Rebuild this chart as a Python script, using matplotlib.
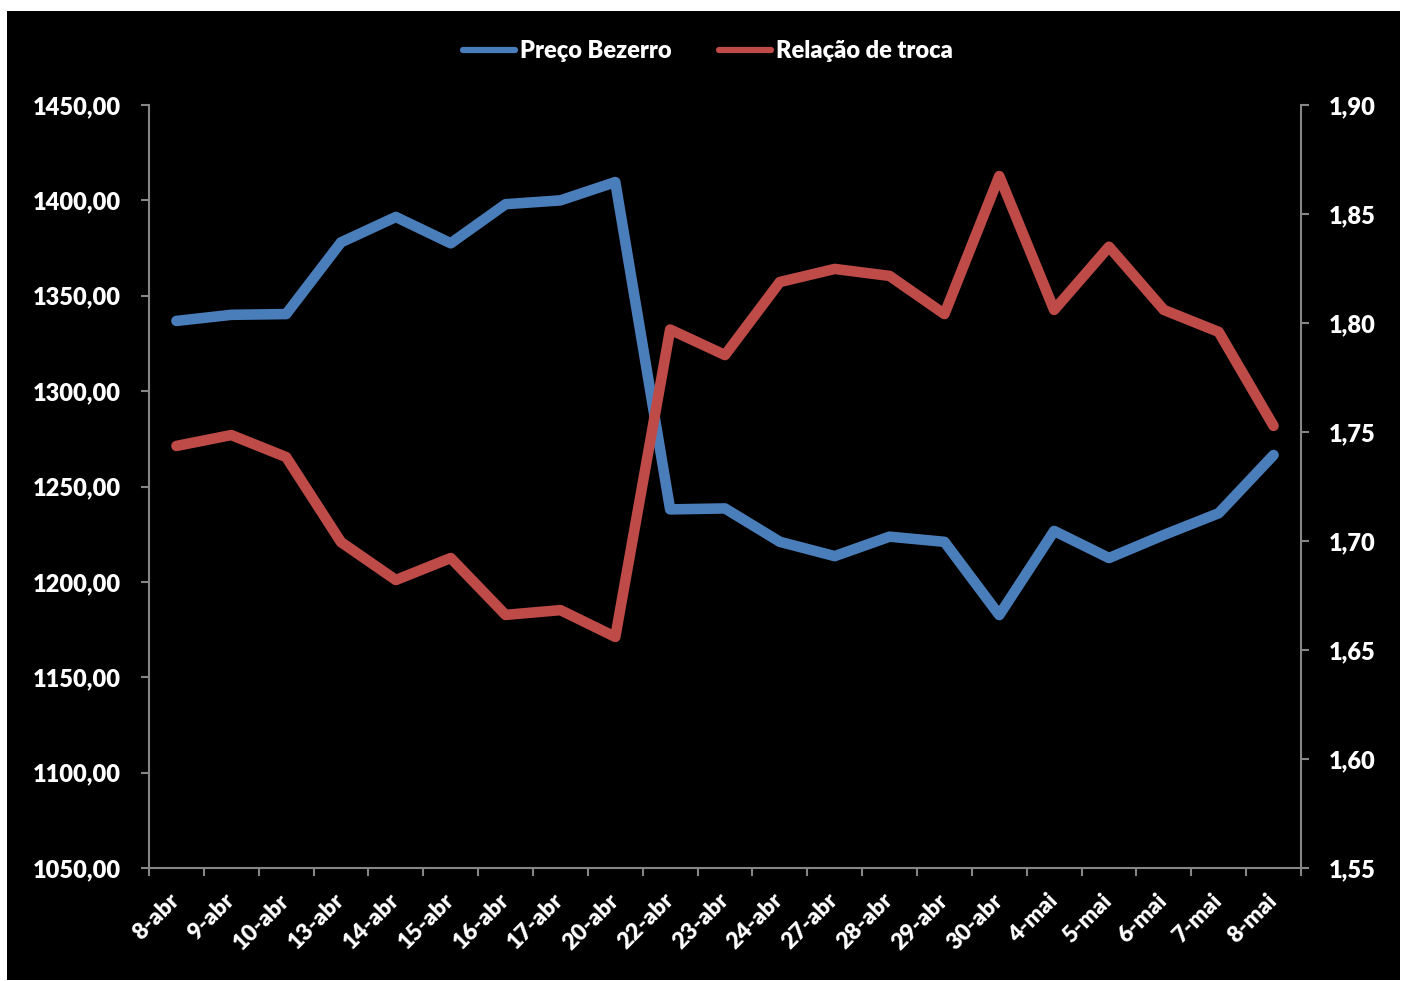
import matplotlib
matplotlib.use("Agg")
import matplotlib.pyplot as plt
from matplotlib.patches import Rectangle
from matplotlib.ticker import FuncFormatter, MultipleLocator

# Datas de referência
datas = ["8-abr", "9-abr", "10-abr", "13-abr", "14-abr", "15-abr", "16-abr",
         "17-abr", "20-abr", "22-abr", "23-abr", "24-abr", "27-abr", "28-abr",
         "29-abr", "30-abr", "4-mai", "5-mai", "6-mai", "7-mai", "8-mai"]

# Preço do bezerro (R$/cabeça)
preco_bezerro = [1336.8, 1340.0, 1340.4, 1378.0, 1391.3, 1377.5, 1398.0,
                 1400.0, 1409.6, 1238.0, 1238.5, 1221.0, 1213.5, 1223.7,
                 1221.0, 1182.6, 1226.7, 1212.5, 1224.6, 1236.0, 1266.5]

# Relação de troca
relacao_troca = [1.7436, 1.7486, 1.7385, 1.6995, 1.6821, 1.6922, 1.6661,
                 1.6683, 1.6560, 1.7970, 1.7853, 1.8188, 1.8248, 1.8216,
                 1.8041, 1.8674, 1.8060, 1.8350, 1.8060, 1.7959, 1.7528]

AZUL = "#4a7ebb"
VERMELHO = "#be4b48"
CINZA = "#868686"
FONTE = "Lato"
PESO = "heavy"

W, H, DPI = 1407, 981, 100
fig = plt.figure(figsize=(W / DPI, H / DPI), dpi=DPI, facecolor="white")
fundo = Rectangle((7 / W, 1 - 980 / H), (1400 - 7) / W, (980 - 11) / H,
                  transform=fig.transFigure, facecolor="black",
                  edgecolor="none", zorder=-10)
fig.add_artist(fundo)

left, right, top, bottom = 149, 1301, 105, 868
ax = fig.add_axes([left / W, 1 - bottom / H, (right - left) / W, (bottom - top) / H])
ax.set_facecolor("none")
ax2 = ax.twinx()

x = list(range(len(datas)))
lw = 7.6
ax.plot(x, preco_bezerro, color=AZUL, lw=lw, solid_capstyle="round",
        solid_joinstyle="round", label="Preço Bezerro", zorder=3)
ax2.plot(x, relacao_troca, color=VERMELHO, lw=lw, solid_capstyle="round",
         solid_joinstyle="round", label="Relação de troca", zorder=3)

ax.set_xlim(-0.5, len(datas) - 0.5)
ax.set_ylim(1050, 1450)
ax2.set_ylim(1.55, 1.90)
ax.yaxis.set_major_locator(MultipleLocator(50))
ax2.yaxis.set_major_locator(MultipleLocator(0.05))
ax.yaxis.set_major_formatter(FuncFormatter(lambda v, p: f"{v:.2f}".replace(".", ",")))
ax2.yaxis.set_major_formatter(FuncFormatter(lambda v, p: f"{v:.2f}".replace(".", ",")))

# Marcas do eixo x entre as categorias
ax.set_xticks([i - 0.5 for i in range(len(datas) + 1)])
ax.set_xticklabels([])
ax.set_xticks(x, minor=True)
ax.set_xticklabels(datas, minor=True, rotation=45, ha="right", va="center",
                   rotation_mode="anchor", fontsize=16.5, fontweight=PESO,
                   color="white", fontname=FONTE)
ax.tick_params(axis="x", which="minor", length=0, pad=21)
ax.tick_params(axis="x", which="major", length=6, width=1.5, color=CINZA, direction="out")

for a in (ax, ax2):
    for s in a.spines.values():
        s.set_visible(False)
    a.set_facecolor("none")
ax.spines["left"].set_visible(True)
ax.spines["bottom"].set_visible(True)
ax2.spines["right"].set_visible(True)
for s in (ax.spines["left"], ax.spines["bottom"], ax2.spines["right"]):
    s.set_color(CINZA)
    s.set_linewidth(1.5)

ax.tick_params(axis="y", length=6, width=1.5, color=CINZA, pad=14,
               labelsize=17, labelcolor="white")
ax2.tick_params(axis="y", length=6, width=1.5, color=CINZA, pad=14,
                labelsize=17, labelcolor="white")
for lab in ax.get_yticklabels() + ax2.get_yticklabels():
    lab.set_fontweight(PESO)
    lab.set_fontname(FONTE)

handles = ax.get_lines() + ax2.get_lines()
leg = fig.legend(handles, [h.get_label() for h in handles], loc="center",
                 bbox_to_anchor=(708 / W, 1 - 51 / H), ncol=2, frameon=False,
                 handlelength=2.2, handletextpad=0.2, columnspacing=2.0,
                 prop={"family": FONTE, "weight": PESO, "size": 17})
for t in leg.get_texts():
    t.set_color("white")
for h in leg.legend_handles:
    h.set_linewidth(4.5)

fig.savefig("out.png", dpi=DPI, facecolor="white")
